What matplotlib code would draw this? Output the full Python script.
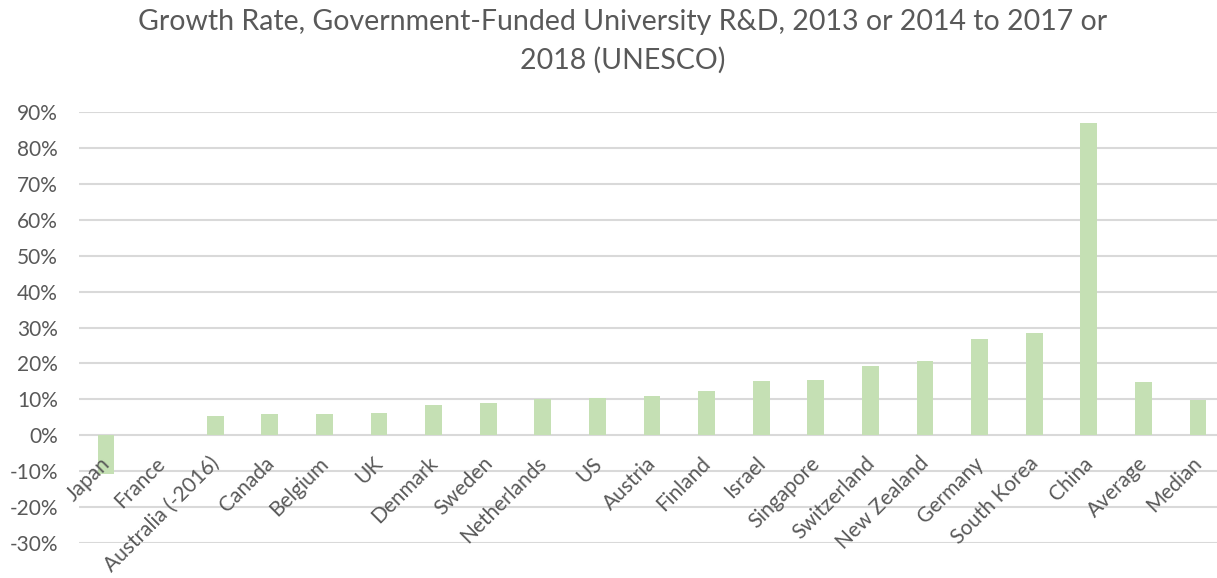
import matplotlib
matplotlib.use("Agg")
import matplotlib.pyplot as plt
from matplotlib.ticker import FuncFormatter
from matplotlib.transforms import ScaledTranslation

# growth of government-funded university R&D, percent
countries = ["Japan", "France", "Australia (-2016)", "Canada", "Belgium", "UK",
             "Denmark", "Sweden", "Netherlands", "US", "Austria", "Finland",
             "Israel", "Singapore", "Switzerland", "New Zealand", "Germany",
             "South Korea", "China", "Average", "Median"]
growth = [-10.7, 0.0, 5.4, 5.9, 5.9, 6.3, 8.5, 8.9, 10.0, 10.3, 10.8, 12.3,
          15.2, 15.5, 19.2, 20.7, 26.9, 28.4, 86.9, 14.9, 9.9]
yticks = list(range(-30, 91, 10))
title_lines = ["Growth Rate, Government-Funded University R&D, 2013 or 2014 to 2017 or",
               "2018 (UNESCO)"]

plt.rcParams['font.family'] = ['Lato', 'DejaVu Sans']
text_col = "#595959"
grid_col = "#d9d9d9"

fig = plt.figure(figsize=(12.17, 5.78), dpi=100)
W, H = 1217, 578
# plot area runs a little past the right edge of the canvas
step = 54.6
x0, x1 = 78.7, 78.7 + step * len(countries)
ax = fig.add_axes([x0 / W, 1 - 543 / H, (x1 - x0) / W, (543 - 112) / H])

pos = list(range(len(countries)))
# gridlines under the bars, tick labels over everything
ax.hlines(yticks, -0.5, len(countries) - 0.5, colors=grid_col, linewidth=1.5, zorder=0)
ax.bar(pos, growth, width=0.31, color="#c5e0b4", zorder=2)
ax.xaxis.set_zorder(3)
ax.yaxis.set_zorder(3)

ax.set_ylim(-30, 90)
ax.set_xlim(-0.5, len(countries) - 0.5)
ax.set_yticks(yticks)
ax.yaxis.set_major_formatter(FuncFormatter(lambda v, p: f"{v:.0f}%"))
ax.tick_params(axis="y", length=0, pad=15, labelsize=15, labelcolor=text_col)

# category labels sit along the zero line
for s in ["top", "left", "right", "bottom"]:
    ax.spines[s].set_visible(False)
ax.spines["bottom"].set_position(("data", 0))
ax.set_xticks(pos)
ax.set_xticklabels(countries, rotation=45, ha="right", rotation_mode="anchor",
                   fontsize=15, color=text_col)
ax.tick_params(axis="x", length=0, pad=13)
shift = ScaledTranslation(-6 / 100, 0, fig.dpi_scale_trans)
for lbl in ax.get_xticklabels():
    lbl.set_transform(lbl.get_transform() + shift)

fig.text(623 / W, 1 - 22 / H, title_lines[0], ha="center", va="center",
         fontsize=20.5, color=text_col)
fig.text(623 / W, 1 - 60 / H, title_lines[1], ha="center", va="center",
         fontsize=20.5, color=text_col)

fig.savefig("out.png", dpi=100)
